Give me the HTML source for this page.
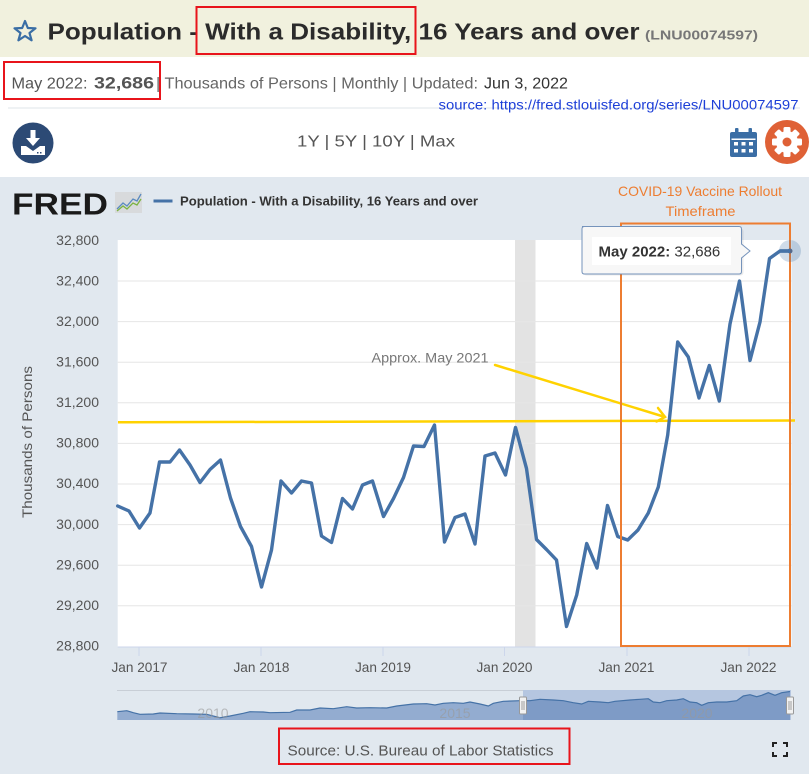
<!DOCTYPE html>
<html><head><meta charset="utf-8">
<style>
html,body{margin:0;padding:0;background:#fff;}
svg{display:block;font-family:"Liberation Sans",sans-serif;}
</style></head>
<body>
<svg width="809" height="774" viewBox="0 0 809 774" xmlns="http://www.w3.org/2000/svg">
<!-- header -->
<rect x="0" y="0" width="809" height="57" fill="#f1f1de"/>
<rect x="0" y="57" width="809" height="120" fill="#ffffff"/>
<!-- star -->
<polygon points="25,21 27.8,28 35.5,28.3 29.5,33 31.6,40.3 25,36 18.4,40.3 20.5,33 14.5,28.3 22.2,28" fill="none" stroke="#3a6ea5" stroke-width="2.2" stroke-linejoin="round"/>
<text x="47.5" y="39.5" font-size="23" font-weight="bold" fill="#2b2b2b" textLength="592" lengthAdjust="spacingAndGlyphs">Population - With a Disability, 16 Years and over</text>
<text x="645" y="39.5" font-size="12.5" font-weight="bold" fill="#777" textLength="113" lengthAdjust="spacingAndGlyphs">(LNU00074597)</text>
<rect x="196.5" y="7" width="219" height="47" fill="none" stroke="#e8141b" stroke-width="2"/>

<!-- line 2 -->
<text x="11.5" y="88.5" font-size="16" fill="#555" textLength="76" lengthAdjust="spacingAndGlyphs">May 2022:</text>
<text x="94" y="88.5" font-size="17" font-weight="bold" fill="#555" textLength="60" lengthAdjust="spacingAndGlyphs">32,686</text>
<text x="156" y="88.5" font-size="16" fill="#666" textLength="322" lengthAdjust="spacingAndGlyphs">| Thousands of Persons | Monthly | Updated:</text>
<text x="484" y="88.5" font-size="16" fill="#333" textLength="84" lengthAdjust="spacingAndGlyphs">Jun 3, 2022</text>
<rect x="4" y="62" width="156" height="37" fill="none" stroke="#e8141b" stroke-width="2"/>
<line x1="8" y1="108" x2="800" y2="108" stroke="#dfe6ea" stroke-width="1"/>
<text x="438.5" y="109.5" font-size="13.5" fill="#1d3fd8" textLength="360" lengthAdjust="spacingAndGlyphs">source: https://fred.stlouisfed.org/series/LNU00074597</text>

<!-- toolbar -->
<circle cx="33" cy="143" r="20.5" fill="#2c4a75"/>
<rect x="30.5" y="130" width="5" height="9" fill="#fff"/>
<polygon points="26,138 40,138 33,146" fill="#fff"/>
<path d="M21,146 L26,146 L33,151 L40,146 L45,146 L45,155 L21,155 Z" fill="#fff"/>
<rect x="37" y="152" width="1.5" height="1.5" fill="#2c4a75"/>
<rect x="40" y="152" width="1.5" height="1.5" fill="#2c4a75"/>
<text x="297" y="146.5" font-size="16" fill="#555" textLength="158" lengthAdjust="spacingAndGlyphs">1Y | 5Y | 10Y | Max</text>
<!-- calendar -->
<rect x="730" y="132" width="27" height="25" rx="2" fill="#3b6ea5"/>
<rect x="735" y="128" width="3.5" height="7" rx="1" fill="#3b6ea5"/>
<rect x="748.5" y="128" width="3.5" height="7" rx="1" fill="#3b6ea5"/>
<rect x="731.5" y="138.5" width="24" height="1.5" fill="#fff"/>
<g fill="#fff">
<rect x="734" y="142" width="4" height="3.5"/><rect x="741.5" y="142" width="4" height="3.5"/><rect x="749" y="142" width="4" height="3.5"/>
<rect x="734" y="149" width="4" height="3.5"/><rect x="741.5" y="149" width="4" height="3.5"/><rect x="749" y="149" width="4" height="3.5"/>
</g>
<!-- gear -->
<circle cx="787" cy="142" r="22" fill="#df6136"/>
<g fill="#fff" transform="translate(787,142)">
<circle r="11"/>
<rect x="-3.5" y="-15" width="7" height="30" rx="1.5"/>
<rect x="-3.5" y="-15" width="7" height="30" rx="1.5" transform="rotate(45)"/>
<rect x="-3.5" y="-15" width="7" height="30" rx="1.5" transform="rotate(90)"/>
<rect x="-3.5" y="-15" width="7" height="30" rx="1.5" transform="rotate(135)"/>
</g>
<circle cx="787" cy="142" r="4.5" fill="#df6136"/>

<!-- chart background -->
<rect x="0" y="177" width="809" height="597" fill="#e1e8ef"/>

<!-- FRED logo -->
<text x="12" y="214.5" font-size="31" font-weight="bold" fill="#1a1a1a" textLength="96" lengthAdjust="spacingAndGlyphs">FRED</text>
<rect x="115" y="192" width="27" height="21" fill="#d8dadc"/>
<polyline points="117,209 123,203 127,206 133,199 137,201 141,194" fill="none" stroke="#5a8ac0" stroke-width="1.3"/>
<polyline points="117,211 123,206 127,209 133,203 137,205 141,199" fill="none" stroke="#7cb342" stroke-width="1.3"/>
<!-- legend -->
<line x1="153.5" y1="201" x2="172.5" y2="201" stroke="#4572a7" stroke-width="3"/>
<text x="180" y="205.5" font-size="13" font-weight="bold" fill="#333" textLength="298" lengthAdjust="spacingAndGlyphs">Population - With a Disability, 16 Years and over</text>

<!-- orange annotation text -->
<text x="700" y="196" font-size="14" fill="#ed7d31" text-anchor="middle" textLength="164" lengthAdjust="spacingAndGlyphs">COVID-19 Vaccine Rollout</text>
<text x="700.5" y="216" font-size="14" fill="#ed7d31" text-anchor="middle" textLength="70" lengthAdjust="spacingAndGlyphs">Timeframe</text>

<!-- plot area -->
<rect x="117.7" y="240" width="673.8" height="406.7" fill="#ffffff"/>
<rect x="515" y="240" width="20.5" height="406.7" fill="#e3e3e3"/>
<g stroke="#e6e6e6" stroke-width="1">
<line x1="117.7" y1="281" x2="791.5" y2="281"/>
<line x1="117.7" y1="321.6" x2="791.5" y2="321.6"/>
<line x1="117.7" y1="362.2" x2="791.5" y2="362.2"/>
<line x1="117.7" y1="402.8" x2="791.5" y2="402.8"/>
<line x1="117.7" y1="443.4" x2="791.5" y2="443.4"/>
<line x1="117.7" y1="484" x2="791.5" y2="484"/>
<line x1="117.7" y1="524.6" x2="791.5" y2="524.6"/>
<line x1="117.7" y1="565.2" x2="791.5" y2="565.2"/>
<line x1="117.7" y1="605.8" x2="791.5" y2="605.8"/>
</g>
<line x1="117.7" y1="647" x2="791.5" y2="647" stroke="#ccd6eb" stroke-width="1"/>
<g stroke="#ccd6eb" stroke-width="1">
<line x1="139" y1="647" x2="139" y2="656"/>
<line x1="261" y1="647" x2="261" y2="656"/>
<line x1="383" y1="647" x2="383" y2="656"/>
<line x1="504.5" y1="647" x2="504.5" y2="656"/>
<line x1="627" y1="647" x2="627" y2="656"/>
<line x1="749" y1="647" x2="749" y2="656"/>
</g>

<!-- y labels -->
<g font-size="14" fill="#555" text-anchor="end">
<text x="99" y="245">32,800</text>
<text x="99" y="285.5">32,400</text>
<text x="99" y="326">32,000</text>
<text x="99" y="366.5">31,600</text>
<text x="99" y="407">31,200</text>
<text x="99" y="447.5">30,800</text>
<text x="99" y="488">30,400</text>
<text x="99" y="529">30,000</text>
<text x="99" y="569.5">29,600</text>
<text x="99" y="610">29,200</text>
<text x="99" y="650.5">28,800</text>
</g>
<text transform="translate(32,442) rotate(-90)" font-size="14" fill="#555" text-anchor="middle" textLength="152" lengthAdjust="spacingAndGlyphs">Thousands of Persons</text>

<!-- x labels -->
<g font-size="14" fill="#555" text-anchor="middle">
<text x="139.5" y="672" textLength="56" lengthAdjust="spacingAndGlyphs">Jan 2017</text>
<text x="261.5" y="672" textLength="56" lengthAdjust="spacingAndGlyphs">Jan 2018</text>
<text x="383" y="672" textLength="56" lengthAdjust="spacingAndGlyphs">Jan 2019</text>
<text x="504.5" y="672" textLength="56" lengthAdjust="spacingAndGlyphs">Jan 2020</text>
<text x="626.5" y="672" textLength="56" lengthAdjust="spacingAndGlyphs">Jan 2021</text>
<text x="748.5" y="672" textLength="56" lengthAdjust="spacingAndGlyphs">Jan 2022</text>
</g>

<!-- yellow line -->
<line x1="118" y1="422.3" x2="795" y2="420.5" stroke="#ffd200" stroke-width="2.5"/>

<!-- series -->
<polyline fill="none" stroke="#4572a7" stroke-width="3.4" stroke-linejoin="round" stroke-linecap="round" points="
117.7,506 129,511 139.5,528 150,513 159.5,462 170,462 179.5,450 190,465 200,482.5 210,469.5 220.5,460 230.5,498 240.5,526.5 251.5,546.5 261.5,587 271.5,550 281,481 291.5,493 301.5,481 311.5,483 321.5,536 331.5,542.5 342.5,498.5 352.5,509 362.5,485 372.5,481 383.5,516.5 393.5,498.5 403.5,477.5 413.5,446 424,446.5 434.5,425 444.5,542 455,517.5 465,514 475,544 485,456 495,453 505.5,475 515.5,427.5 526.5,468.5 536.5,539.5 546.5,549.5 556.5,560 566.5,626.5 576.7,595 586.7,543.5 597,568 607.5,505.5 617.7,536.5 627.7,540 638,530 648.3,513 658.3,487 667.7,435 677.7,342 688.3,357 699,398 709.3,365.5 719.3,401 730,324 739.5,281 750,360.5 760,322 769.5,258.5 780,251 790,251"/>

<!-- arrow annotation -->
<text x="371.5" y="362.5" font-size="14" fill="#777" textLength="117" lengthAdjust="spacingAndGlyphs">Approx. May 2021</text>
<g stroke="#ffd200" stroke-width="2.5" fill="none" stroke-linecap="round">
<line x1="495" y1="365" x2="665" y2="417"/>
<polyline points="658,408 665,417 656.5,421.5"/>
</g>

<!-- orange box -->
<rect x="621" y="223.5" width="169" height="422.5" fill="none" stroke="#ed7d31" stroke-width="2"/>

<!-- tooltip -->
<rect x="583.5" y="228.5" width="160" height="47" rx="3" fill="#000" opacity="0.08"/>
<path d="M582,226.5 L739,226.5 Q741.5,226.5 741.5,229 L741.5,244 L750,251 L741.5,258 L741.5,271.5 Q741.5,274 739,274 L584.5,274 Q582,274 582,271.5 L582,229 Q582,226.5 584.5,226.5 Z" fill="#f7f7f7" stroke="#7593bb" stroke-width="1"/>
<rect x="592" y="237" width="139" height="28" fill="#ffffff"/>
<text x="598.5" y="256.5" font-size="15" fill="#333"><tspan font-weight="bold">May 2022:</tspan> 32,686</text>

<!-- highlight marker -->
<circle cx="790" cy="251" r="11" fill="#4572a7" opacity="0.25"/>
<circle cx="790" cy="251" r="2.5" fill="#55698a"/>
<line x1="780" y1="251" x2="790" y2="251" stroke="#4572a7" stroke-width="3.4"/>

<!-- navigator -->
<line x1="117" y1="690.5" x2="791" y2="690.5" stroke="#c8ced6" stroke-width="1"/>
<rect x="523" y="690" width="268" height="30" fill="#b5c6e0"/>
<polygon fill="#93acd0" points="117.3,720 117.3,711.7 126.7,710.7 133.3,712.7 140,714.3 153.3,714 160,713 176.7,713.7 193.3,714 206.7,714.3 220,717.7 230,716 243.3,713.3 250,711.7 263.3,712 270,712.7 290,712.3 296.7,710 310,710 320,708 333.3,708.7 346.7,706.7 356.7,708 370,707.7 386.7,708 396.7,706 413.3,704 426.7,703.7 435,705 443.3,703.3 453.3,702.7 463.3,703.3 470,702 480,704 488.3,706 493.3,703.3 503.3,701.3 520,700.7 523,700.7 523,720"/>
<polygon fill="#7e9bc6" points="523,720 523,700.7 530,700.7 540,699.3 553.3,700 563.3,700.7 573.3,702.7 581.7,704 588.3,701.3 600,702 608.3,702.7 615,701.3 630,700 640,699.3 648.3,698.7 653.3,702 660,702.7 666.7,700.7 676.7,700 683.3,698.7 690,702 696.7,702.7 701.7,705.3 708.3,702.7 716.7,702 726.7,702 736.7,700.7 743.3,696 750,694.7 756.7,696.7 761.7,695.3 768.3,692.7 775,695.3 781.7,692.7 790,691.5 790,720"/>
<polyline fill="none" stroke="#4572a7" stroke-width="1.2" points="117.3,711.7 126.7,710.7 133.3,712.7 140,714.3 153.3,714 160,713 176.7,713.7 193.3,714 206.7,714.3 220,717.7 230,716 243.3,713.3 250,711.7 263.3,712 270,712.7 290,712.3 296.7,710 310,710 320,708 333.3,708.7 346.7,706.7 356.7,708 370,707.7 386.7,708 396.7,706 413.3,704 426.7,703.7 435,705 443.3,703.3 453.3,702.7 463.3,703.3 470,702 480,704 488.3,706 493.3,703.3 503.3,701.3 520,700.7 530,700.7 540,699.3 553.3,700 563.3,700.7 573.3,702.7 581.7,704 588.3,701.3 600,702 608.3,702.7 615,701.3 630,700 640,699.3 648.3,698.7 653.3,702 660,702.7 666.7,700.7 676.7,700 683.3,698.7 690,702 696.7,702.7 701.7,705.3 708.3,702.7 716.7,702 726.7,702 736.7,700.7 743.3,696 750,694.7 756.7,696.7 761.7,695.3 768.3,692.7 775,695.3 781.7,692.7 790,691.5"/>
<g font-size="14" fill="#999" opacity="0.6" text-anchor="middle">
<text x="213" y="718">2010</text>
<text x="455" y="718">2015</text>
<text x="697" y="718">2020</text>
</g>
<g>
<rect x="519.5" y="697" width="7" height="17" rx="1" fill="#f2f2f2" stroke="#999" stroke-width="1"/>
<line x1="522" y1="701" x2="522" y2="710" stroke="#888" stroke-width="0.8"/>
<line x1="524" y1="701" x2="524" y2="710" stroke="#888" stroke-width="0.8"/>
<rect x="786.5" y="697" width="7" height="17" rx="1" fill="#f2f2f2" stroke="#999" stroke-width="1"/>
<line x1="789" y1="701" x2="789" y2="710" stroke="#888" stroke-width="0.8"/>
<line x1="791" y1="701" x2="791" y2="710" stroke="#888" stroke-width="0.8"/>
</g>

<!-- source -->
<text x="287.5" y="755.5" font-size="15" fill="#555" textLength="266" lengthAdjust="spacingAndGlyphs">Source: U.S. Bureau of Labor Statistics</text>
<rect x="279" y="728.5" width="290.5" height="35.5" fill="none" stroke="#e8141b" stroke-width="2"/>

<!-- fullscreen icon -->
<g stroke="#222" stroke-width="2" fill="none">
<polyline points="773,747 773,743 777,743"/>
<polyline points="783,743 787,743 787,747"/>
<polyline points="773,752 773,756 777,756"/>
<polyline points="783,756 787,756 787,752"/>
</g>
</svg>
</body></html>
